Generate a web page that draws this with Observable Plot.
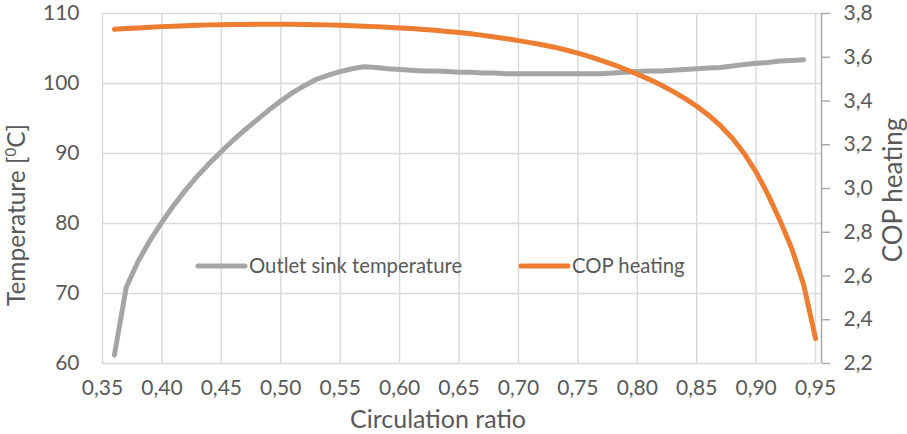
<!DOCTYPE html>
<html>
<head>
<meta charset="utf-8">
<script src="https://cdn.jsdelivr.net/npm/d3@7"></script>
<script src="https://cdn.jsdelivr.net/npm/@observablehq/plot@0.6"></script>
<style>
  html, body { margin: 0; padding: 0; background: #fff; }
  #chart { width: 907px; height: 434px; overflow: hidden; }
</style>
</head>
<body>
<div id="chart"></div>
<script>
// Circulation ratio (x) shared by both series
const ratio = [0.36, 0.37, 0.38, 0.39, 0.40, 0.41, 0.42, 0.43, 0.44, 0.45,
  0.46, 0.47, 0.48, 0.49, 0.50, 0.51, 0.52, 0.53, 0.54, 0.55,
  0.56, 0.57, 0.58, 0.59, 0.60, 0.61, 0.62, 0.63, 0.64, 0.65,
  0.66, 0.67, 0.68, 0.69, 0.70, 0.71, 0.72, 0.73, 0.74, 0.75,
  0.76, 0.77, 0.78, 0.79, 0.80, 0.81, 0.82, 0.83, 0.84, 0.85,
  0.86, 0.87, 0.88, 0.89, 0.90, 0.91, 0.92, 0.93, 0.94, 0.95];

// Outlet sink temperature [°C] (left axis), 0.36 … 0.94
const outletTemp = [61.2, 70.9, 74.6, 77.6, 80.2, 82.6, 84.8, 86.8, 88.6, 90.3,
  91.9, 93.4, 94.8, 96.2, 97.5, 98.7, 99.7, 100.6, 101.2, 101.7,
  102.1, 102.4, 102.3, 102.1, 102.0, 101.9, 101.8, 101.8, 101.7, 101.6,
  101.6, 101.5, 101.5, 101.4, 101.4, 101.4, 101.4, 101.4, 101.4, 101.4,
  101.4, 101.4, 101.5, 101.6, 101.7, 101.8, 101.8, 101.9, 102.0, 102.1,
  102.2, 102.3, 102.5, 102.7, 102.9, 103.0, 103.2, 103.3, 103.4];

// COP heating (right axis), 0.36 … 0.95
const copHeating = [3.728, 3.731, 3.734, 3.737, 3.740, 3.742, 3.744, 3.746, 3.748, 3.749,
  3.750, 3.750, 3.751, 3.751, 3.751, 3.751, 3.750, 3.749, 3.748, 3.746,
  3.744, 3.742, 3.740, 3.737, 3.734, 3.731, 3.727, 3.723, 3.718, 3.713,
  3.707, 3.700, 3.693, 3.685, 3.676, 3.667, 3.657, 3.646, 3.633, 3.619,
  3.603, 3.585, 3.566, 3.545, 3.523, 3.499, 3.473, 3.444, 3.412, 3.376,
  3.335, 3.287, 3.230, 3.160, 3.075, 2.972, 2.855, 2.725, 2.560, 2.314];

// Axis ticks
const xTicks = [0.35, 0.40, 0.45, 0.50, 0.55, 0.60, 0.65, 0.70, 0.75, 0.80, 0.85, 0.90, 0.95];
const tempTicks = [60, 70, 80, 90, 100, 110];
const copTicks = [2.2, 2.4, 2.6, 2.8, 3.0, 3.2, 3.4, 3.6, 3.8];

const xDomain = [0.35, 0.955];
const tempDomain = [60, 110];
const copDomain = [2.2, 3.8];

// Map COP onto the temperature scale so both share one y scale
const copToTemp = c => tempDomain[0] + (c - copDomain[0]) * (tempDomain[1] - tempDomain[0]) / (copDomain[1] - copDomain[0]);
const tempToCop = t => copDomain[0] + (t - tempDomain[0]) * (copDomain[1] - copDomain[0]) / (tempDomain[1] - tempDomain[0]);

const comma = (fmt) => v => d3.format(fmt)(v).replace(".", ",");

const tempData = outletTemp.map((t, i) => ({x: ratio[i], y: t}));
const copData = copHeating.map((c, i) => ({x: ratio[i], y: copToTemp(c)}));

const gridColor = "#d9d9d9";
const textColor = "#595959";
const FONT = "Lato, 'Open Sans', sans-serif";

const chart = Plot.plot({
  width: 907,
  height: 434,
  marginTop: 13,
  marginBottom: 71,
  marginLeft: 102,
  marginRight: 86,
  style: {fontFamily: FONT, fontSize: "21px", color: textColor, background: "#fff", overflow: "visible"},
  x: {domain: xDomain, label: null},
  y: {domain: tempDomain, label: null},
  marks: [
    Plot.gridX(xTicks, {stroke: gridColor, strokeOpacity: 1, strokeWidth: 1.4}),
    Plot.gridY(tempTicks, {stroke: gridColor, strokeOpacity: 1, strokeWidth: 1.4}),
    Plot.axisX(xTicks, {tickSize: 0, tickPadding: 17, tickFormat: comma(".2f"), label: null}),
    Plot.axisY(tempTicks, {anchor: "left", tickSize: 0, tickPadding: 23, tickFormat: d => String(d), label: null}),
    // right-hand COP axis: line, outward ticks, labels
    Plot.ruleX([xDomain[1]], {stroke: "#a6a6a6", strokeWidth: 1.4}),
    Plot.axisY(copTicks.map(copToTemp), {anchor: "right", tickSize: 8, tickPadding: 14, stroke: "#a6a6a6", strokeWidth: 1.4, text: null, label: null}),
    Plot.axisY(copTicks.map(copToTemp), {anchor: "right", tickSize: 0, tickPadding: 22, tickFormat: t => comma(".1f")(tempToCop(t)), label: null}),
    Plot.line(tempData, {x: "x", y: "y", stroke: "#a5a5a5", strokeWidth: 5, strokeLinecap: "round", strokeLinejoin: "round"}),
    Plot.line(copData, {x: "x", y: "y", stroke: "#ed7d31", strokeWidth: 5, strokeLinecap: "round", strokeLinejoin: "round"})
  ]
});

document.getElementById("chart").appendChild(chart);

// Axis titles and the in-plot legend
const svg = d3.select(chart);
const titles = svg.append("g").attr("fill", textColor).style("font-family", FONT);

titles.append("text")
  .attr("transform", "translate(438,428)")
  .attr("text-anchor", "middle")
  .style("font-size", "25px")
  .text("Circulation ratio");

const yTitle = titles.append("text")
  .attr("transform", "translate(25,215) rotate(-90)")
  .attr("text-anchor", "middle")
  .style("font-size", "24.5px");
yTitle.append("tspan").text("Temperature [");
yTitle.append("tspan").attr("baseline-shift", "super").style("font-size", "15px").text("0");
yTitle.append("tspan").text("C]");

titles.append("text")
  .attr("transform", "translate(902,190) rotate(-90)")
  .attr("text-anchor", "middle")
  .style("font-size", "26px")
  .text("COP heating");

const legendItems = [
  {label: "Outlet sink temperature", color: "#a5a5a5", x: 196},
  {label: "COP heating", color: "#ed7d31", x: 519}
];
const legend = svg.append("g").style("font-family", FONT).style("font-size", "20.3px");
for (const item of legendItems) {
  legend.append("line")
    .attr("x1", item.x + 2).attr("x2", item.x + 49)
    .attr("y1", 266).attr("y2", 266)
    .attr("stroke", item.color).attr("stroke-width", 5).attr("stroke-linecap", "round");
  legend.append("text")
    .attr("x", item.x + 53).attr("y", 273)
    .attr("text-anchor", "start")
    .attr("fill", textColor)
    .text(item.label);
}
</script>
</body>
</html>
